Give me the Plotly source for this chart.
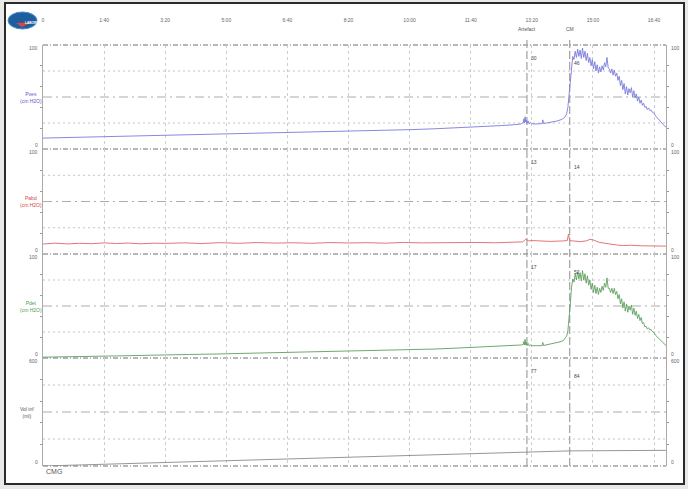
import plotly.graph_objects as go

# ---------------- data ----------------
time_ticks = [0, 100, 200, 300, 400, 500, 600, 700, 800, 900, 1000]
time_labels = ["0", "1:40", "3:20", "5:00", "6:40", "8:20", "10:00", "11:40", "13:20", "15:00", "16:40"]

channel_names = ["Pves", "Pabd", "Pdet", "Vol inf"]
channel_units = ["(cm H2O)", "(cm H2O)", "(cm H2O)", "(ml)"]
channel_max = [100, 100, 100, 600]

event_names = ["Artefact", "CM"]
event_times = [792, 862]
event_values_artefact = [30, 13, 17, 77]
event_values_cm = [46, 14, 52, 84]

pves_t = [0, 40, 80, 120, 160, 200, 240, 280, 320, 360, 400, 440, 480, 520, 560, 600, 640, 680, 720, 750, 770, 782,
          786, 787, 788, 789, 790, 791, 792, 794, 796, 798, 800,
          805, 812, 817, 818, 819, 826, 834, 842, 848, 852, 855, 857, 859, 861, 863, 865, 867,
          869, 871, 873, 875, 877, 879, 881, 883, 885, 887, 889, 891, 893, 895, 897, 899, 901, 903, 905, 907, 909,
          911, 913, 915, 917, 919, 921, 923, 925, 927, 929, 931, 933, 935, 937, 939, 941, 943, 945, 947, 949,
          951, 953, 955, 957, 959, 961, 963, 965, 967, 969, 971, 973, 975, 977, 979, 981, 983, 985, 987, 989,
          991, 993, 995, 997, 999, 1003, 1007, 1011, 1015, 1019.6]
pves_v = [10.5, 11, 11.8, 12.3, 12.8, 13.2, 13.8, 14.3, 14.8, 15.2, 15.8, 16.3, 16.8, 17.4, 18, 18.6, 19.4, 20.3, 21.4, 22.5, 23.3, 24,
          25.5, 29, 25, 31, 26, 28, 24.5, 27, 24, 25.5, 24.5,
          24, 24.2, 24.5, 28, 24.5, 25.2, 26, 27, 28.3, 29.5, 31.5, 34, 40, 52, 68, 82, 89,
          86, 94, 88, 96, 89, 95, 87, 97, 88, 94, 85, 92, 83, 88, 80, 86, 77, 84, 75, 81, 73,
          79, 74, 80, 76, 83, 79, 88, 78, 77, 73, 77, 71, 76, 70, 73, 66, 70, 61, 66, 57,
          63, 53, 60, 52, 58, 54, 59, 50, 56, 49, 53, 46, 50, 44, 47, 42, 44, 40, 41, 38,
          39.5, 37, 37.5, 35.5, 35, 31.5, 28.5, 26, 23.5, 21]

pabd_t = [0, 20, 40, 60, 80, 100, 120, 140, 160, 180, 200, 230, 260, 290, 320, 350, 380, 410, 440, 470, 500, 530,
          560, 590, 620, 650, 680, 710, 740, 770, 785, 790, 795, 800, 810, 830, 850, 858, 860, 862, 864, 870,
          880, 890, 895, 900, 905, 910, 920, 930, 940, 950, 960, 980, 1000, 1019.6]
pabd_v = [9.5, 10.3, 9.6, 10.2, 9.8, 10.6, 10, 10.4, 9.7, 10.3, 10.1, 10.6, 10, 10.8, 10.2, 10.9, 10.4, 10.7, 10.2, 10.9, 10.5, 10.8,
          10.3, 11, 10.6, 10.9, 10.5, 11, 10.7, 11, 11.5, 14, 12.5, 12.8, 12.3, 12, 12.4, 12.8, 19, 13, 12.6, 12.4,
          11.8, 12.6, 14, 13.5, 12.5, 11.2, 10.2, 9.2, 8.5, 8, 8.3, 7.8, 7.6, 7.5]

pdet_t = pves_t
pdet_v = [0.8, 0.9, 1.6, 2, 2.7, 2.9, 3.4, 3.8, 4.3, 4.5, 5.1, 5.6, 6, 6.8, 7.4, 7.8, 8.6, 9.6, 10.5, 11.3, 12, 12.5,
          13, 16, 12.5, 18, 12.5, 15, 12, 14, 11.5, 12.5, 11.8,
          11.5, 11.8, 12, 15, 12, 12.8, 13.5, 14.5, 15.8, 17, 19, 21, 26, 36, 52, 68, 76,
          73, 81, 75, 83, 76, 82, 74, 84, 75, 81, 72, 79, 70, 75, 66, 72, 63, 70, 62, 68, 61,
          67, 63, 69, 65, 72, 68, 77, 67, 67, 63, 67, 62, 67, 61, 64, 57, 61, 52, 57, 48,
          54, 45, 52, 44, 50, 46, 51, 42, 48, 41, 45, 38, 42, 36, 39, 33, 34, 30, 30.5, 28,
          29, 27, 27.5, 25.5, 25, 21.5, 19, 16.5, 14, 12]

vol_t = [0, 400, 792, 862, 1019.6]
vol_v = [0, 39, 77, 84, 87]

# ---------------- layout helpers ----------------
W, H = 688, 489
L, R, T, B = 43, 666, 45, 466
panel_px = [45, 149, 254, 358, 466]


def px(x):
    return (x - L) / (R - L)


def py(y):
    return (B - y) / (B - T)


line_colors = ["#7b7bdc", "#e06666", "#5f9f5f", "#8a8a8a"]
label_colors = ["#5a5ac8", "#d04848", "#4f9a4f", "#555555"]
FONT = "Liberation Sans, Arial, sans-serif"

fig = go.Figure()
series = [(pves_t, pves_v), (pabd_t, pabd_v), (pdet_t, pdet_v), (vol_t, vol_v)]
axis_ids = ["y", "y2", "y3", "y4"]
for i, (tt, vv) in enumerate(series):
    fig.add_trace(go.Scatter(x=tt, y=vv, mode="lines", yaxis=axis_ids[i], xaxis="x",
                             line=dict(color=line_colors[i], width=0.9), showlegend=False,
                             hoverinfo="skip"))

layout = dict(
    width=W, height=H,
    margin=dict(l=L, r=W - R, t=T, b=H - B),
    paper_bgcolor="#e9e9e9",
    plot_bgcolor="rgba(0,0,0,0)",
    font=dict(family=FONT, size=5, color="#666"),
    showlegend=False,
    xaxis=dict(domain=[0, 1], range=[0, 1019.6], anchor="y", side="top",
               tickvals=time_ticks, ticktext=time_labels, ticks="",
               tickfont=dict(size=5, color="#666"), ticklabelstandoff=21,
               showgrid=True, gridcolor="#cdcdcd", gridwidth=1, griddash="dot",
               zeroline=False, showline=False),
)
for i in range(4):
    d0 = py(panel_px[i + 1])
    d1 = py(panel_px[i])
    key = "yaxis" if i == 0 else "yaxis%d" % (i + 1)
    mx = channel_max[i]
    layout[key] = dict(domain=[d0, d1], range=[0, mx], anchor="x",
                       tickvals=[mx * k / 5 for k in range(1, 5)], showticklabels=False,
                       ticks="outside", ticklen=2, tickcolor="#999", tickwidth=1,
                       showline=True, linecolor="#aaa", linewidth=1, mirror="ticks",
                       showgrid=False, zeroline=False)
fig.update_layout(**layout)

shapes = []
# outer frame
shapes.append(dict(type="rect", xref="paper", yref="paper",
                   x0=px(5), x1=px(684), y0=py(484), y1=py(3),
                   line=dict(color="#2b2b2b", width=2), fillcolor="white", layer="below"))
# horizontal grid lines
for i in range(4):
    top, bot = panel_px[i], panel_px[i + 1]
    hgt = bot - top
    for frac, dash, col in [(0.25, "2px,3px", "#c4c4c4"), (0.5, "9px,4px,2px,4px", "#acacac"),
                            (0.75, "2px,3px", "#c4c4c4")]:
        yy = py(top + hgt * frac)
        shapes.append(dict(type="line", xref="paper", yref="paper", x0=0, x1=1, y0=yy, y1=yy,
                           line=dict(color=col, width=1, dash=dash), layer="below"))
for yb in panel_px:
    shapes.append(dict(type="line", xref="paper", yref="paper", x0=0, x1=1, y0=py(yb), y1=py(yb),
                       line=dict(color="#707070", width=1, dash="5px,2px,1px,2px"), layer="below"))
# event markers
for et in event_times:
    shapes.append(dict(type="line", xref="x", yref="paper", x0=et, x1=et, y0=0, y1=py(38),
                       line=dict(color="#a0a0a0", width=1.2, dash="8px,3px"), layer="below"))
# logo
shapes.append(dict(type="circle", xref="paper", yref="paper",
                   x0=px(8), x1=px(37), y0=py(29), y1=py(12),
                   fillcolor="#1d5e9e", line=dict(color="#4a8ac4", width=1), layer="above"))
shapes.append(dict(type="path", xref="paper", yref="paper",
                   path="M %f,%f L %f,%f L %f,%f Z" % (px(16), py(23), px(31), py(22.5), px(22), py(27)),
                   fillcolor="#d9473f", line=dict(width=0), layer="above"))
fig.update_layout(shapes=shapes)

ann = []
ann.append(dict(text="<b>LABORIE</b>", x=px(22.5), y=py(19.5), xref="paper", yref="paper",
                showarrow=False, font=dict(size=3.2, color="white", family=FONT)))
for i in range(4):
    yref = axis_ids[i]
    mx = channel_max[i]
    dom_ref = ("y" if i == 0 else "y%d" % (i + 1)) + " domain"
    ann.append(dict(text="%s<br>%s" % (channel_names[i], channel_units[i]), x=px(18), y=0.5,
                    xref="paper", yref=dom_ref, showarrow=False,
                    font=dict(size=5, color=label_colors[i], family=FONT)))
    for side_x, anchor, shift in [(0, "right", -3), (1, "left", 3)]:
        ann.append(dict(text=str(mx), x=side_x, y=mx, xref="paper", yref=yref, xanchor=anchor,
                        yanchor="top", xshift=shift, yshift=2, showarrow=False,
                        font=dict(size=5, color="#666", family=FONT)))
        ann.append(dict(text="0", x=side_x, y=0, xref="paper", yref=yref, xanchor=anchor,
                        yanchor="bottom", xshift=shift, yshift=-1, showarrow=False,
                        font=dict(size=5, color="#666", family=FONT)))
    ann.append(dict(text=str(event_values_artefact[i]), x=event_times[0], y=mx, xref="x", yref=yref,
                    xanchor="left", yanchor="top", xshift=2, yshift=-8, showarrow=False,
                    font=dict(size=5, color="#444", family=FONT)))
    ann.append(dict(text=str(event_values_cm[i]), x=event_times[1], y=mx, xref="x", yref=yref,
                    xanchor="left", yanchor="top", xshift=2, yshift=-13, showarrow=False,
                    font=dict(size=5, color="#444", family=FONT)))
for name, et in zip(event_names, event_times):
    ann.append(dict(text=name, x=et, y=py(24), xref="x", yref="paper", showarrow=False,
                    font=dict(size=5, color="#555", family=FONT)))
ann.append(dict(text="CMG", x=px(44), y=py(477), xref="paper", yref="paper", xanchor="left",
                showarrow=False, font=dict(size=7, color="#555", family=FONT)))
fig.update_layout(annotations=ann)

fig.write_html("out.html", config={"displayModeBar": False},
               post_script="document.body.style.margin='0px';document.body.style.overflow='hidden';"
                           "document.body.style.background='#e9e9e9';")
